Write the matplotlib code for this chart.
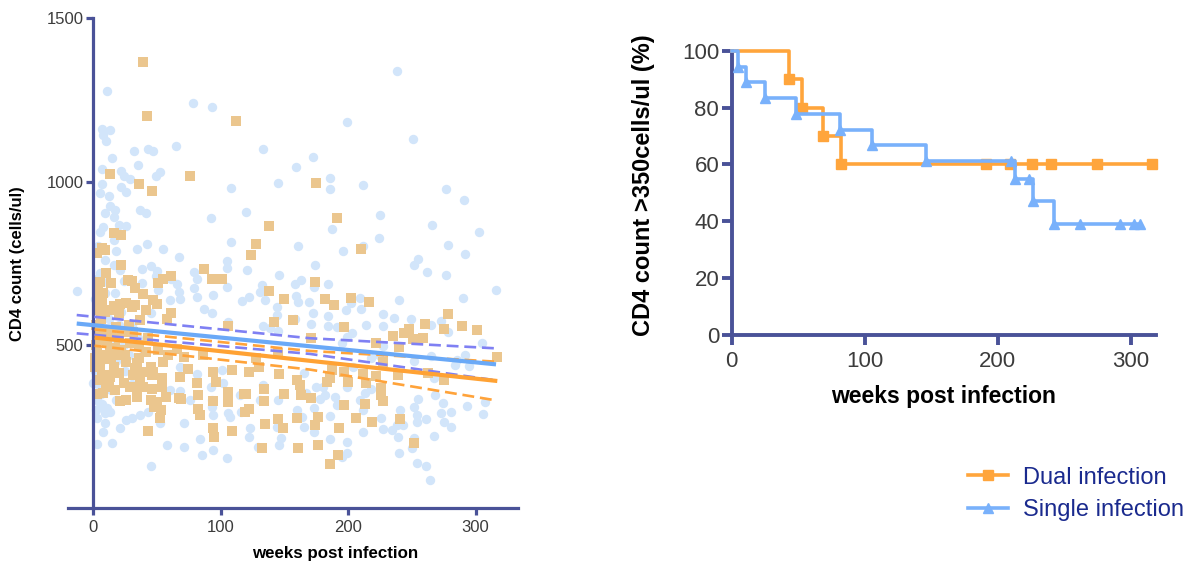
import matplotlib
matplotlib.use('Agg')
import matplotlib.pyplot as plt
from matplotlib.lines import Line2D
import numpy as np

plt.rcParams['font.family'] = ['Liberation Sans', 'DejaVu Sans']

# ---- left panel: CD4 counts (weeks, cells/ul) ----
single_pts = [
    (11, 1277), (78, 1241), (93, 1229), (7, 1160), (13, 1158), (8, 1142), (10, 1124), (32, 1093),
    (43, 1099), (47, 1093), (65, 1110), (133, 1099), (15, 1071), (7, 1037), (22, 1032), (24, 1018),
    (29, 1007), (49, 1017), (52, 1030), (35, 1050), (7, 992), (22, 984), (26, 969), (5, 964),
    (12, 957), (108, 979), (145, 997), (159, 1043), (13, 925), (17, 913), (9, 903), (16, 890),
    (37, 913), (41, 905), (92, 889), (120, 906), (8, 860), (5, 844), (20, 867), (26, 865),
    (4, 802), (16, 821), (18, 788), (34, 793), (42, 809), (55, 793), (67, 769), (108, 814),
    (161, 803), (9, 760), (16, 744), (38, 731), (45, 742), (50, 727), (49, 711), (5, 719),
    (11, 693), (21, 729), (61, 700), (66, 685), (67, 663), (68, 639), (60, 637), (79, 724),
    (81, 701), (79, 675), (81, 645), (105, 757), (105, 734), (105, 676), (121, 729), (132, 683),
    (131, 663), (135, 638), (146, 714), (117, 635), (122, 647), (94, 652), (87, 609), (93, 598),
    (106, 571), (133, 557), (144, 617), (144, 591), (158, 685), (163, 698), (159, 649), (161, 632),
    (158, 579), (169, 632), (51, 668), (45, 596), (38, 690), (24, 696), (17, 658),
    (199, 1182), (251, 1129), (172, 1074), (186, 1010), (186, 977), (212, 989), (277, 977), (291, 944),
    (225, 898), (187, 854), (266, 866), (303, 846), (212, 804), (224, 827), (278, 805), (292, 777),
    (196, 787), (255, 763), (252, 744), (262, 723), (277, 715), (174, 744), (184, 687), (173, 678),
    (209, 642), (210, 609), (240, 637), (316, 668), (290, 644), (172, 598), (184, 589), (198, 606),
    (227, 594), (236, 583), (249, 579), (273, 574), (171, 563), (214, 561), (227, 558),
    (139, 550), (145, 543), (3, 331), (5, 310), (9, 290), (13, 293), (3, 275), (9, 259),
    (8, 234), (21, 244), (26, 270), (30, 275), (37, 285), (43, 295), (52, 259), (71, 261),
    (68, 359), (81, 410), (92, 370), (93, 331), (93, 310), (94, 285), (106, 290), (107, 280),
    (116, 295), (123, 244), (122, 219), (129, 188), (133, 377), (131, 331), (145, 331), (147, 213),
    (146, 193), (160, 300), (165, 413), (167, 351), (3, 196), (15, 198), (58, 193), (71, 188),
    (84, 210), (85, 162), (94, 178), (105, 152), (45, 130), (115, 346), (101, 423), (102, 382),
    (68, 433), (60, 361), (76, 331), (0, 382), (165, 249), (144, 249),
    (202, 627), (184, 559), (191, 555), (199, 525), (203, 535), (265, 561), (278, 538), (305, 504),
    (175, 372), (199, 370), (213, 353), (218, 363), (265, 467), (292, 469), (295, 435), (285, 453),
    (284, 438), (252, 451), (267, 397), (268, 346), (274, 323), (255, 333), (252, 310), (254, 285),
    (254, 264), (261, 273), (273, 290), (275, 264), (281, 295), (281, 249), (293, 312), (306, 287),
    (307, 324), (241, 300), (238, 254), (243, 254), (226, 275), (227, 241), (234, 239), (212, 300),
    (212, 234), (186, 282), (178, 334), (173, 307), (191, 316), (173, 234), (186, 210), (199, 201),
    (199, 167), (195, 157), (240, 170), (239, 216), (250, 183), (252, 213), (267, 221), (254, 139),
    (261, 129), (264, 86), (164, 280), (209, 331), (204, 433), (218, 458), (224, 469), (180, 370),
    (182, 346), (190, 341), (195, 504), (227, 496),
    (-13, 665), (238, 1340),
    (2, 560), (5, 600), (8, 540), (12, 580), (3, 480), (6, 450), (10, 470), (1, 420),
    (4, 380), (14, 360), (18, 330), (7, 320), (11, 305), (16, 520), (20, 560), (24, 500),
    (28, 470), (1, 640), (9, 660), (3, 700), (30, 560), (35, 520), (40, 480), (25, 420),
    (30, 380), (12, 410), (6, 350), (2, 300), (18, 450), (22, 600),
]

dual_pts = [
    (42, 1201), (112, 1185), (13, 1022), (36, 992), (46, 971), (76, 1017), (138, 864), (128, 809),
    (124, 775), (16, 841), (22, 836), (7, 795), (3, 780), (9, 790), (22, 744), (10, 719),
    (14, 688), (5, 693), (27, 698), (30, 696), (33, 673), (39, 657), (51, 688), (55, 700),
    (61, 711), (87, 731), (93, 700), (101, 700), (138, 665), (150, 639), (142, 569), (157, 576),
    (106, 556), (3, 637), (8, 658), (4, 668), (21, 625), (26, 629), (30, 617), (33, 622),
    (41, 607), (47, 637), (50, 625), (61, 596), (58, 578), (5, 606), (13, 606), (20, 596), (37, 576),
    (175, 994), (191, 887), (210, 792), (174, 691), (182, 639), (189, 621), (202, 642), (216, 630),
    (278, 593), (260, 563), (289, 559), (248, 547), (275, 547), (301, 545), (197, 555),
    (7, 627), (3, 515), (11, 504), (29, 504), (41, 479), (51, 484), (59, 469), (66, 487),
    (71, 462), (86, 469), (128, 458), (145, 474), (5, 438), (14, 458), (26, 448), (34, 443),
    (45, 433), (39, 418), (47, 418), (55, 448), (9, 407), (20, 412), (31, 407), (46, 407),
    (54, 397), (68, 402), (74, 425), (94, 416), (109, 423), (122, 416), (130, 433), (146, 410),
    (160, 392), (162, 377), (10, 370), (34, 367), (39, 372), (46, 363), (54, 370), (69, 333),
    (67, 336), (57, 339), (81, 382), (82, 346), (96, 387), (106, 356), (118, 348), (120, 348),
    (134, 364), (134, 329), (150, 348), (163, 346), (21, 328), (34, 339), (45, 331), (50, 326),
    (48, 310), (53, 300), (52, 275), (82, 302), (84, 285), (94, 328), (106, 324), (119, 293),
    (122, 302), (145, 272), (149, 244), (160, 277), (135, 257), (43, 236), (94, 246), (95, 218),
    (109, 236), (132, 183), (161, 183), (16, 433), (24, 382), (13, 484), (22, 484), (3, 474),
    (4, 392), (8, 351), (1, 433), (13, 402), (17, 361), (29, 372), (26, 331), (37, 387), (33, 428),
    (235, 527), (259, 520), (222, 504), (240, 494), (171, 520), (317, 461), (227, 448), (263, 412),
    (275, 392), (187, 423), (197, 418), (212, 410), (222, 404), (239, 407), (200, 387), (183, 387),
    (186, 397), (214, 384), (226, 367), (226, 346), (227, 329), (171, 336), (197, 316), (213, 318),
    (176, 278), (174, 254), (206, 275), (219, 264), (241, 272), (193, 244), (176, 193), (192, 162),
    (186, 135), (252, 198), (244, 536), (251, 518),
    (39, 1366),
    (2, 560), (6, 580), (10, 545), (14, 530), (18, 555), (2, 500), (7, 470), (12, 455),
    (17, 490), (1, 460), (5, 530), (9, 600), (16, 620), (20, 520), (24, 540), (28, 560),
    (12, 380), (7, 400), (3, 350), (20, 470), (25, 470), (36, 460), (36, 500), (43, 520), (31, 540),
]

# regression lines and 95% bands
single_fit_x = [-13, 316]
single_fit_y = [565, 440]
single_band_x = [-13, 170, 316]
single_band_hi = [591, 520, 489]
single_band_lo = [535, 472, 391]

dual_fit_x = [1, 317]
dual_fit_y = [522, 389]
dual_band_x = [1, 170, 317]
dual_band_hi = [547, 481, 448]
dual_band_lo = [497, 424, 329]

# ---- right panel: Kaplan-Meier, CD4 > 350 ----
dual_km_t = [0, 43, 53, 68.6, 82.3, 316]
dual_km_s = [100, 90, 80, 70, 60, 60]
dual_mark_t = [43, 53, 68.6, 82.3, 191.3, 209.5, 225.7, 240.2, 274.5, 316]
dual_mark_s = [90, 80, 70, 60, 60, 60, 60, 60, 60, 60]

single_km_t = [0, 4.7, 10.5, 24.7, 48.1, 81.1, 105.6, 146.4, 212.7, 226.2, 242.2, 306.7]
single_km_s = [100, 94.4, 88.9, 83.3, 77.8, 72.2, 66.7, 61.1, 55.0, 47.0, 39.0, 39.0]
single_mark_t = [4.7, 10.5, 24.7, 48.1, 81.1, 105.6, 146.4, 210, 212.7, 223.5, 226.2, 242.2,
                 261.9, 292, 302.7, 306.7]
single_mark_s = [94.4, 88.9, 83.3, 77.8, 72.2, 66.7, 61.1, 61.1, 55.0, 55.0, 47.0, 39.0,
                 39.0, 39.0, 39.0, 39.0]

# colours
axis_col = '#4a5298'
tick_col = '#3c3c3c'
blue_pt = '#d2e5fa'
orange_pt = '#ebc68e'
blue_fit = '#6aa9f7'
orange_fit = '#ffa234'
blue_dash = '#7f80f3'
orange_dash = '#ffa33a'
km_orange = '#ffa53c'
km_blue = '#79b1fb'

W, H = 1192, 569
fig = plt.figure(figsize=(W / 100, H / 100), dpi=100)

# left axes
ax1 = fig.add_axes([68.3 / W, 1 - 508 / H, 449.4 / W, 489.7 / H])
sx, sy = zip(*single_pts)
dx, dy = zip(*dual_pts)
ax1.scatter(sx, sy, s=46, marker='o', color=blue_pt, linewidths=0, zorder=1)
ax1.scatter(dx, dy, s=50, marker='s', color=orange_pt, linewidths=0, zorder=2)

ax1.plot(dual_band_x, dual_band_hi, color=orange_dash, lw=1.9, dashes=(4.5, 2.2), zorder=3)
ax1.plot(dual_band_x, dual_band_lo, color=orange_dash, lw=1.9, dashes=(4.5, 2.2), zorder=3)
ax1.plot(single_band_x, single_band_hi, color=blue_dash, lw=1.9, dashes=(4.5, 2.2), zorder=3)
ax1.plot(single_band_x, single_band_lo, color=blue_dash, lw=1.9, dashes=(4.5, 2.2), zorder=3)
ax1.plot(dual_fit_x, dual_fit_y, color=orange_fit, lw=3.0, solid_capstyle='butt', zorder=4)
ax1.plot(single_fit_x, single_fit_y, color=blue_fit, lw=3.0, solid_capstyle='butt', zorder=4)

ax1.set_xlim(-19.6, 333)
ax1.set_ylim(0, 1500)
ax1.set_xticks([0, 100, 200, 300])
ax1.set_yticks([500, 1000, 1500])
ax1.spines['left'].set_position(('data', 0))
for side in ['top', 'right']:
    ax1.spines[side].set_visible(False)
for side in ['left', 'bottom']:
    ax1.spines[side].set_color(axis_col)
    ax1.spines[side].set_linewidth(2.3)
ax1.tick_params(axis='both', direction='out', length=5, width=2.3, color=axis_col,
                labelsize=12, labelcolor=tick_col)
ax1.tick_params(axis='y', pad=2)
ax1.tick_params(axis='x', pad=4)
ax1.set_xlabel('weeks post infection', fontsize=12.2, fontweight='bold')
ax1.xaxis.set_label_coords(0.594, -0.092)
ax1.xaxis.label.set_va('center')
ax1.set_ylabel('CD4 count (cells/ul)', fontsize=12, fontweight='bold')
ax1.yaxis.set_label_coords(-0.112, 0.5)
ax1.yaxis.label.set_va('center')

# right axes
ax2 = fig.add_axes([731.7 / W, 1 - 334.7 / H, 424.3 / W, 284 / H])
ax2.step(dual_km_t, dual_km_s, where='post', color=km_orange, lw=2.6, clip_on=False, zorder=3)
ax2.plot(dual_mark_t, dual_mark_s, 's', ms=7.8, color=km_orange, clip_on=False, zorder=3)
ax2.step(single_km_t, single_km_s, where='post', color=km_blue, lw=2.6, clip_on=False, zorder=4)
ax2.plot(single_mark_t, single_mark_s, '^', ms=7.8, color=km_blue, clip_on=False, zorder=4)

ax2.set_xlim(0, 319)
ax2.set_ylim(0, 100)
ax2.set_xticks([0, 100, 200, 300])
ax2.set_yticks([0, 20, 40, 60, 80, 100])
for side in ['top', 'right']:
    ax2.spines[side].set_visible(False)
for side in ['left', 'bottom']:
    ax2.spines[side].set_color(axis_col)
    ax2.spines[side].set_linewidth(2.8)
ax2.tick_params(axis='both', direction='out', length=7, width=2.8, color=axis_col,
                labelsize=16, labelcolor=tick_col)
ax2.tick_params(axis='y', pad=2)
ax2.tick_params(axis='x', pad=5)
ax2.set_xlabel('weeks post infection', fontsize=16.5, fontweight='bold')
ax2.xaxis.set_label_coords(0.5, -0.216)
ax2.xaxis.label.set_va('center')
ax2.set_ylabel('CD4 count >350cells/ul (%)', fontsize=17, fontweight='bold')
ax2.yaxis.set_label_coords(-0.209, 0.525)
ax2.yaxis.label.set_va('center')

handles = [
    Line2D([], [], color=km_orange, lw=2.6, marker='s', ms=7),
    Line2D([], [], color=km_blue, lw=2.6, marker='^', ms=7),
]
fig.legend(handles, ['Dual infection', 'Single infection'], loc='center left',
           bbox_to_anchor=(968 / W, 1 - 494 / H), frameon=False, fontsize=17,
           labelcolor='#1a2a8e', handlelength=1.7, handletextpad=0.62, labelspacing=0.45,
           borderpad=0, borderaxespad=0)

fig.savefig('out.png', dpi=100)
